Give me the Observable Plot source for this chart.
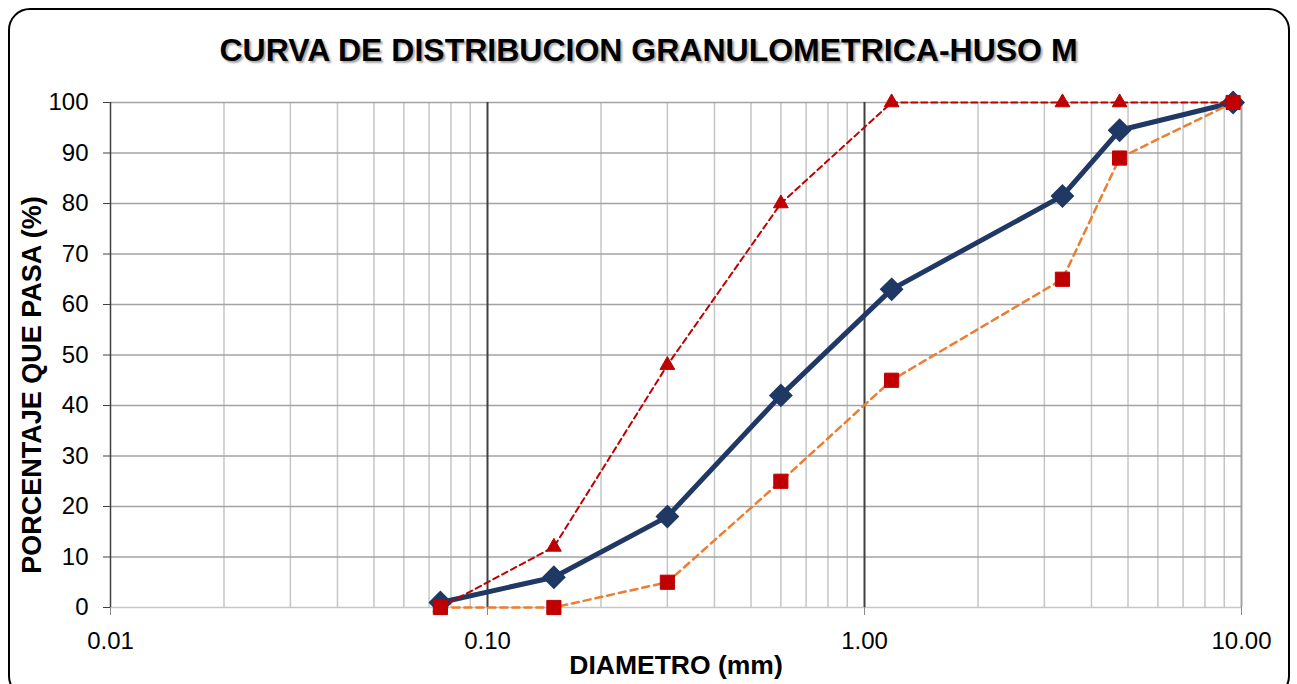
<!DOCTYPE html>
<html>
<head>
<meta charset="utf-8">
<script src="https://cdn.jsdelivr.net/npm/d3@7"></script>
<script src="https://cdn.jsdelivr.net/npm/@observablehq/plot@0.6"></script>
<style>
  html, body { margin: 0; padding: 0; background: #fff; }
  #wrap { position: relative; width: 1297px; height: 684px; overflow: hidden; font-family: "Liberation Sans", Arial, sans-serif; }
  #frame { position: absolute; left: 8px; top: 8px; width: 1282px; height: 690px; border: 2px solid #000; border-radius: 22px; box-sizing: border-box; pointer-events: none; }
  #title { height: 80px; line-height: 100px; text-align: center; font-weight: bold; font-size: 32px; color: #000; text-shadow: 2px 2px 2px rgba(0,0,0,0.35); }
  svg { display: block; }
</style>
</head>
<body>
<div id="wrap">
  <div id="frame"></div>
  <div id="title">CURVA DE DISTRIBUCION GRANULOMETRICA-HUSO M</div>
  <div id="chart"></div>
</div>
<script>
const diameters = [0.075, 0.15, 0.30, 0.60, 1.18, 3.35, 4.75, 9.50];
const muestra   = [1, 6, 18, 42, 63, 81.5, 94.5, 100];
const limSup    = [0, 12, 48, 80, 100, 100, 100, 100];
const limInf    = [0, 0, 5, 25, 45, 65, 89, 100];
const xTicks = [0.01, 0.1, 1, 10];
const xTickLabels = ["0.01", "0.10", "1.00", "10.00"];
const yTicks = [0, 10, 20, 30, 40, 50, 60, 70, 80, 90, 100];
const xLabel = "DIAMETRO (mm)";
const yLabel = "PORCENTAJE QUE PASA (%)";

const minorX = [];
for (const dec of [0.01, 0.1, 1]) for (let k = 2; k <= 9; k++) minorX.push(+(k * dec).toFixed(4));

const rows = (vals) => diameters.map((d, i) => ({d, v: vals[i]}));
const dMain = rows(muestra), dSup = rows(limSup), dInf = rows(limInf);

const font = "'Liberation Sans', Arial, sans-serif";
const chart = Plot.plot({
  width: 1297,
  height: 604,
  marginLeft: 110,
  marginRight: 56,
  marginTop: 22,
  marginBottom: 77,
  style: {fontFamily: font, fontSize: "24px", color: "#000", background: "transparent", overflow: "visible"},
  x: {type: "log", domain: [0.01, 10]},
  y: {domain: [0, 100]},
  marks: [
    Plot.ruleX(minorX, {stroke: "#c6c6c6", strokeWidth: 1.5}),
    Plot.ruleY(yTicks.slice(1), {stroke: "#a3a3a3", strokeWidth: 1.5}),
    Plot.ruleY([0], {stroke: "#c6c6c6", strokeWidth: 1.5}),
    Plot.ruleX([10], {stroke: "#a3a3a3", strokeWidth: 2}),
    Plot.ruleX([0.1, 1], {stroke: "#404040", strokeWidth: 2}),
    Plot.ruleX([0.01], {stroke: "#404040", strokeWidth: 1.5}),
    Plot.axisX({ticks: xTicks, tickFormat: (d) => xTickLabels[xTicks.indexOf(d)], tickSize: 8, tickPadding: 16, stroke: "#8a8a8a", fill: "#000", fontSize: 24, label: null}),
    Plot.axisY({ticks: yTicks, tickSize: 7, tickPadding: 15, stroke: "#404040", fill: "#000", fontSize: 24, label: null}),
    Plot.line(dMain, {x: "d", y: "v", stroke: "#1f3864", strokeWidth: 5}),
    Plot.dot(dMain, {x: "d", y: "v", symbol: "diamond2", r: 9.5, fill: "#1f3864", stroke: "#1f3864", strokeWidth: 2}),
    Plot.line(dSup, {x: "d", y: "v", stroke: "#c00000", strokeWidth: 2, strokeDasharray: "6,4"}),
    Plot.dot(dSup, {x: "d", y: "v", symbol: "triangle", r: 5.5, fill: "#c00000", stroke: "#c00000", strokeWidth: 1}),
    Plot.line(dInf, {x: "d", y: "v", stroke: "#ed7d31", strokeWidth: 2.5, strokeDasharray: "7,5"}),
    Plot.dot(dInf, {x: "d", y: "v", symbol: "square", r: 8, fill: "#c00000", stroke: "#c00000", strokeWidth: 1}),
    Plot.text([xLabel], {frameAnchor: "bottom", dy: 58, lineAnchor: "middle", textAnchor: "middle", text: d => d, fontWeight: "bold", fontSize: 26.5, fill: "#000"}),
    Plot.text([yLabel], {frameAnchor: "left", dx: -78, dy: 30, rotate: -90, lineAnchor: "middle", textAnchor: "middle", text: d => d, fontWeight: "bold", fontSize: 27, fill: "#000"})
  ]
});
document.getElementById("chart").appendChild(chart);
</script>
</body>
</html>
